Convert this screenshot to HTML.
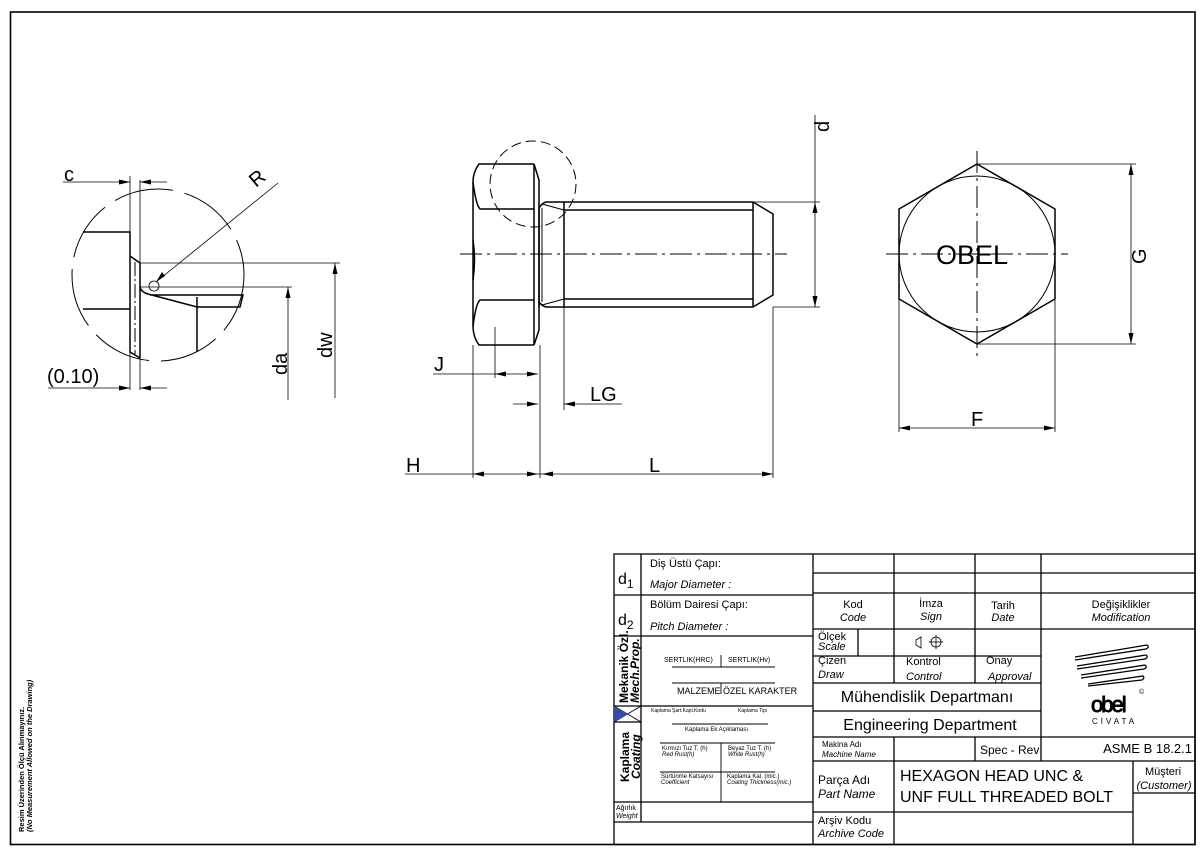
<!DOCTYPE html>
<html><head><meta charset="utf-8"><style>
html,body{margin:0;padding:0;background:#fff;}
svg{display:block;}
text{font-family:"Liberation Sans","DejaVu Sans",sans-serif;fill:#000;}
</style></head><body>
<svg width="1200" height="849" viewBox="0 0 1200 849" xmlns="http://www.w3.org/2000/svg">
<g fill="none" stroke="#000">
<!-- border -->
<rect x="10.5" y="12" width="1184.5" height="832.5" stroke-width="1.6"/>

<!-- ===== LEFT DETAIL ===== -->
<circle cx="158" cy="275" r="86" stroke-width="1" stroke-dasharray="60,12"/>
<g stroke-width="1.5">
<polyline points="83,232 130,232 130,352 140,358"/>
<line x1="83" y1="309" x2="130" y2="309"/>
<polyline points="130,256 140,263"/>
<line x1="140" y1="263" x2="140" y2="358"/>
<path d="M140,287 Q141,292 148,294 L197,307 L240,307 L243,295 L150,295"/>
<line x1="197" y1="297" x2="197" y2="352"/>
</g>
<line x1="135" y1="262" x2="135" y2="355" stroke-width="1" stroke-dasharray="14,3,2,3"/>
<g stroke-width="0.8">
<line x1="130" y1="176" x2="130" y2="232"/>
<line x1="140" y1="180" x2="140" y2="390"/>
<line x1="130" y1="352" x2="130" y2="390"/>
<line x1="140" y1="263" x2="340" y2="263"/>
<line x1="140" y1="287" x2="292" y2="287"/>
<line x1="335" y1="263" x2="335" y2="398"/>
<line x1="288" y1="287" x2="288" y2="400"/>
<circle cx="154" cy="286" r="5"/>
<line x1="278" y1="183" x2="156" y2="282"/>
<line x1="63" y1="182" x2="130" y2="182"/>
<line x1="140" y1="182" x2="167" y2="182"/>
<line x1="48" y1="388" x2="130" y2="388"/>
<line x1="140" y1="388" x2="167" y2="388"/>
</g>
</g>
<g fill="#000">
<polygon points="130,182 119,179.5 119,184.5"/>
<polygon points="140,182 151,179.5 151,184.5"/>
<polygon points="130,388 119,385.5 119,390.5"/>
<polygon points="140,388 151,385.5 151,390.5"/>
<polygon points="335,263 332.5,274 337.5,274"/>
<polygon points="288,287 285.5,298 290.5,298"/>
<polygon points="156,282 162,272 165,276"/>
</g>
<text x="64" y="181" font-size="20">c</text>
<text x="47" y="383" font-size="20">(0.10)</text>
<text x="0" y="0" font-size="20" transform="translate(256,188) rotate(-40)">R</text>
<text x="0" y="0" font-size="20" transform="translate(332,358) rotate(-90)">dw</text>
<text x="0" y="0" font-size="20" transform="translate(287,375) rotate(-90)">da</text>

<!-- ===== BOLT SIDE VIEW ===== -->
<g fill="none" stroke="#000">
<circle cx="533" cy="184" r="43" stroke-width="1" stroke-dasharray="10,5"/>
<g stroke-width="1.5">
<path d="M534,164 L479,164 Q473,172 473,182 L473,326 Q473,337 479,345 L534,345"/>
<path d="M534,164 L534,345"/>
<path d="M534,164 L539,180 L539,330 L534,345"/>
<line x1="539" y1="208" x2="539" y2="307"/>
<path d="M473,182 Q476,205 480,209 L534,209"/>
<path d="M473,326 Q476,303 480,300 L534,300"/>
<path d="M473,240 Q476,260 473,280"/>
<path d="M539,208 Q542,203 546,202 L753,202 L773,214 L773,295 L753,307 L546,307 Q542,306 539,302"/>
<line x1="564" y1="202" x2="564" y2="307"/>
<line x1="753" y1="202" x2="753" y2="307"/>
<line x1="564" y1="210" x2="753" y2="210"/>
<line x1="564" y1="299" x2="753" y2="299"/>
</g>
<line x1="542" y1="204" x2="564" y2="210" stroke-width="1"/>
<line x1="542" y1="305" x2="564" y2="299" stroke-width="1"/>
<line x1="542" y1="208" x2="542" y2="302" stroke-width="1"/>
<line x1="460" y1="254" x2="787" y2="254" stroke-width="1" stroke-dasharray="22,5,3,5"/>
<g stroke-width="0.8">
<line x1="753" y1="202" x2="820" y2="202"/>
<line x1="773" y1="307" x2="820" y2="307"/>
<line x1="815" y1="115" x2="815" y2="307"/>
<line x1="433" y1="374" x2="538" y2="374"/>
<line x1="495" y1="327" x2="495" y2="378"/>
<line x1="513" y1="404" x2="538" y2="404"/>
<line x1="564" y1="307" x2="564" y2="410"/>
<line x1="564" y1="404" x2="622" y2="404"/>
<line x1="473" y1="345" x2="473" y2="478"/>
<line x1="540" y1="345" x2="540" y2="478"/>
<line x1="773" y1="307" x2="773" y2="478"/>
<line x1="405" y1="474" x2="773" y2="474"/>
</g>
</g>
<g fill="#000">
<polygon points="815,202 812.5,213 817.5,213"/>
<polygon points="815,307 812.5,296 817.5,296"/>
<polygon points="495,374 506,371.5 506,376.5"/>
<polygon points="538,374 527,371.5 527,376.5"/>
<polygon points="538,404 527,401.5 527,406.5"/>
<polygon points="564,404 575,401.5 575,406.5"/>
<polygon points="473,474 484,471.5 484,476.5"/>
<polygon points="538,474 527,471.5 527,476.5"/>
<polygon points="542,474 553,471.5 553,476.5"/>
<polygon points="773,474 762,471.5 762,476.5"/>
</g>
<text x="0" y="0" font-size="20" transform="translate(829,132) rotate(-90)">d</text>
<text x="434" y="371" font-size="20">J</text>
<text x="590" y="401" font-size="20">LG</text>
<text x="406" y="472" font-size="20">H</text>
<text x="649" y="472" font-size="20">L</text>

<!-- ===== HEX VIEW ===== -->
<g fill="none" stroke="#000">
<polygon points="977,164 1055,209 1055,299 977,344 899,299 899,209" stroke-width="1.5"/>
<circle cx="977" cy="254" r="78" stroke-width="1"/>
<line x1="886" y1="254" x2="1068" y2="254" stroke-width="1" stroke-dasharray="22,5,3,5"/>
<line x1="977" y1="151" x2="977" y2="357" stroke-width="1" stroke-dasharray="22,5,3,5"/>
<g stroke-width="0.8">
<line x1="977" y1="164" x2="1136" y2="164"/>
<line x1="977" y1="344" x2="1136" y2="344"/>
<line x1="1131" y1="164" x2="1131" y2="344"/>
<line x1="899" y1="299" x2="899" y2="432"/>
<line x1="1055" y1="299" x2="1055" y2="432"/>
<line x1="899" y1="428" x2="1055" y2="428"/>
</g>
</g>
<g fill="#000">
<polygon points="1131,164 1128.5,175 1133.5,175"/>
<polygon points="1131,344 1128.5,333 1133.5,333"/>
<polygon points="899,428 910,425.5 910,430.5"/>
<polygon points="1055,428 1044,425.5 1044,430.5"/>
</g>
<text x="936" y="264" font-size="27">OBEL</text>
<text x="0" y="0" font-size="20" transform="translate(1146,264) rotate(-90)">G</text>
<text x="971" y="426" font-size="20">F</text>

<!-- ===== side note ===== -->
<text x="0" y="0" font-size="7.5" font-weight="bold" transform="translate(24,832) rotate(-90)">Resim Üzerinden Ölçü Alınmayınız.</text>
<text x="0" y="0" font-size="7.5" font-weight="bold" font-style="italic" transform="translate(32,832) rotate(-90)">(No Measurement Allowed on the Drawing)</text>

<!-- ===== TITLE BLOCK ===== -->
<g fill="none" stroke="#000" stroke-width="1.3">
<rect x="614" y="554" width="581" height="290.5"/>
<line x1="813" y1="554" x2="813" y2="844"/>
<line x1="641" y1="554" x2="641" y2="822"/>
<line x1="614" y1="595" x2="813" y2="595"/>
<line x1="614" y1="636" x2="813" y2="636"/>
<line x1="614" y1="706" x2="813" y2="706"/>
<line x1="614" y1="722" x2="641" y2="722"/>
<line x1="614" y1="802" x2="813" y2="802"/>
<line x1="614" y1="822" x2="813" y2="822"/>
<!-- right block rows -->
<line x1="813" y1="573" x2="1195" y2="573"/>
<line x1="813" y1="593" x2="1195" y2="593"/>
<line x1="813" y1="629" x2="1195" y2="629"/>
<line x1="813" y1="656" x2="1041" y2="656"/>
<line x1="813" y1="683" x2="1041" y2="683"/>
<line x1="813" y1="711" x2="1041" y2="711"/>
<line x1="813" y1="737" x2="1195" y2="737"/>
<line x1="813" y1="761" x2="1195" y2="761"/>
<line x1="813" y1="812" x2="1133" y2="812"/>
<line x1="1133" y1="793" x2="1195" y2="793"/>
<!-- right block cols -->
<line x1="894" y1="554" x2="894" y2="683"/>
<line x1="975" y1="554" x2="975" y2="683"/>
<line x1="1041" y1="554" x2="1041" y2="761"/>
<line x1="858" y1="629" x2="858" y2="656"/>
<line x1="894" y1="737" x2="894" y2="844"/>
<line x1="975" y1="737" x2="975" y2="761"/>
<line x1="1133" y1="761" x2="1133" y2="844"/>
</g>
<g fill="none" stroke="#000" stroke-width="0.9">
<line x1="721" y1="655" x2="721" y2="667"/>
<line x1="672" y1="667" x2="775" y2="667"/>
<line x1="672" y1="683" x2="775" y2="683"/>
<line x1="721" y1="683" x2="721" y2="694"/>
<line x1="672" y1="724" x2="768" y2="724"/>
<line x1="660" y1="743" x2="775" y2="743"/>
<line x1="660" y1="772" x2="775" y2="772"/>
<line x1="721" y1="743" x2="721" y2="802"/>
<line x1="614" y1="706" x2="641" y2="722"/>
<line x1="614" y1="722" x2="641" y2="706"/>
</g>
<polygon points="614,706 614,722 628,714" fill="#3b4aa8"/>

<g font-size="11">
<text x="618" y="584" font-size="16">d<tspan font-size="12" dy="4">1</tspan></text>
<text x="618" y="625" font-size="16">d<tspan font-size="12" dy="4">2</tspan></text>
<text x="650" y="567">Diş Üstü Çapı:</text>
<text x="650" y="588" font-style="italic">Major Diameter :</text>
<text x="650" y="608">Bölüm Dairesi Çapı:</text>
<text x="650" y="630" font-style="italic">Pitch Diameter :</text>
<text x="0" y="0" font-size="12" font-weight="bold" transform="translate(628,703) rotate(-90)">Mekanik Özl.</text>
<text x="0" y="0" font-size="12" font-weight="bold" font-style="italic" transform="translate(639,703) rotate(-90)">Mech.Prop.</text>
<text x="0" y="0" font-size="12" font-weight="bold" transform="translate(629,782) rotate(-90)">Kaplama</text>
<text x="0" y="0" font-size="12" font-weight="bold" font-style="italic" transform="translate(640,779) rotate(-90)">Coating</text>
<text x="664" y="662" font-size="7">SERTLIK(HRC)</text>
<text x="728" y="662" font-size="7">SERTLIK(Hv)</text>
<text x="677" y="694" font-size="9">MALZEME</text>
<text x="723" y="694" font-size="9">ÖZEL KARAKTER</text>
<text x="651" y="712" font-size="5">Kaplama Şart.Kapl.Kodu</text>
<text x="738" y="712" font-size="5">Kaplama Tipi</text>
<text x="685" y="731" font-size="6">Kaplama Ek Açıklaması</text>
<text x="662" y="750" font-size="6">Kırmızı Tuz T. (h)</text>
<text x="662" y="756" font-size="6" font-style="italic">Red Rust(h)</text>
<text x="728" y="750" font-size="6">Beyaz Tuz T. (h)</text>
<text x="728" y="756" font-size="6" font-style="italic">White Rust(h)</text>
<text x="661" y="778" font-size="6">Sürtünme Katsayısı</text>
<text x="661" y="784" font-size="6" font-style="italic">Coefficient</text>
<text x="727" y="778" font-size="6">Kaplama Kal. (mic.)</text>
<text x="727" y="784" font-size="6" font-style="italic">Coating Thickness(mic.)</text>
<text x="616" y="810" font-size="7">Ağırlık</text>
<text x="616" y="818" font-size="7" font-style="italic">Weight</text>

<text x="853" y="608" text-anchor="middle">Kod</text>
<text x="853" y="621" text-anchor="middle" font-style="italic">Code</text>
<text x="931" y="607" text-anchor="middle">İmza</text>
<text x="931" y="620" text-anchor="middle" font-style="italic">Sign</text>
<text x="1003" y="609" text-anchor="middle">Tarih</text>
<text x="1003" y="621" text-anchor="middle" font-style="italic">Date</text>
<text x="1121" y="608" text-anchor="middle">Değişiklikler</text>
<text x="1121" y="621" text-anchor="middle" font-style="italic">Modification</text>
<text x="818" y="640">Ölçek</text>
<text x="818" y="650" font-style="italic">Scale</text>
<text x="818" y="664">Çizen</text>
<text x="818" y="678" font-style="italic">Draw</text>
<text x="906" y="665">Kontrol</text>
<text x="906" y="680" font-style="italic">Control</text>
<text x="986" y="664">Onay</text>
<text x="988" y="680" font-style="italic">Approval</text>
<text x="927" y="702" text-anchor="middle" font-size="16">Mühendislik Departmanı</text>
<text x="930" y="730" text-anchor="middle" font-size="16">Engineering Department</text>
<text x="822" y="747" font-size="8">Makina Adı</text>
<text x="822" y="757" font-size="8" font-style="italic">Machine Name</text>
<text x="980" y="754" font-size="12">Spec - Rev</text>
<text x="1192" y="753" text-anchor="end" font-size="13">ASME B 18.2.1</text>
<text x="818" y="784" font-size="12">Parça Adı</text>
<text x="818" y="798" font-size="12" font-style="italic">Part Name</text>
<text x="900" y="781" font-size="16">HEXAGON HEAD UNC &amp;</text>
<text x="900" y="802" font-size="16">UNF FULL THREADED BOLT</text>
<text x="1163" y="775" text-anchor="middle">Müşteri</text>
<text x="1164" y="789" text-anchor="middle" font-style="italic">(Customer)</text>
<text x="818" y="824">Arşiv Kodu</text>
<text x="818" y="837" font-style="italic">Archive Code</text>
</g>
<!-- symbol -->
<g fill="none" stroke="#000" stroke-width="0.8">
<polygon points="916,640 921,637 921,648 916,645"/>
<circle cx="936" cy="642" r="5"/>
<line x1="929" y1="642" x2="943" y2="642"/>
<line x1="936" y1="635" x2="936" y2="649"/>
</g>
<!-- logo -->
<g fill="none" stroke="#000" stroke-width="1.3">
<path d="M1075,657 L1147,645 Q1150,647 1146,649 L1075,660"/>
<path d="M1077,666 L1146,655 Q1149,657 1145,659 L1077,669"/>
<path d="M1081,675 L1145,665 Q1148,667 1144,669 L1081,678"/>
<path d="M1088,684 L1143,676 Q1145,678 1142,680 L1088,686"/>
</g>
<text x="1091" y="712" font-size="22" letter-spacing="-2" fill="none" stroke="#000" stroke-width="0.9">obel</text>
<text x="1139" y="694" font-size="7">©</text>
<text x="1092" y="724" font-size="8" letter-spacing="3">CİVATA</text>
</svg>
</body></html>
